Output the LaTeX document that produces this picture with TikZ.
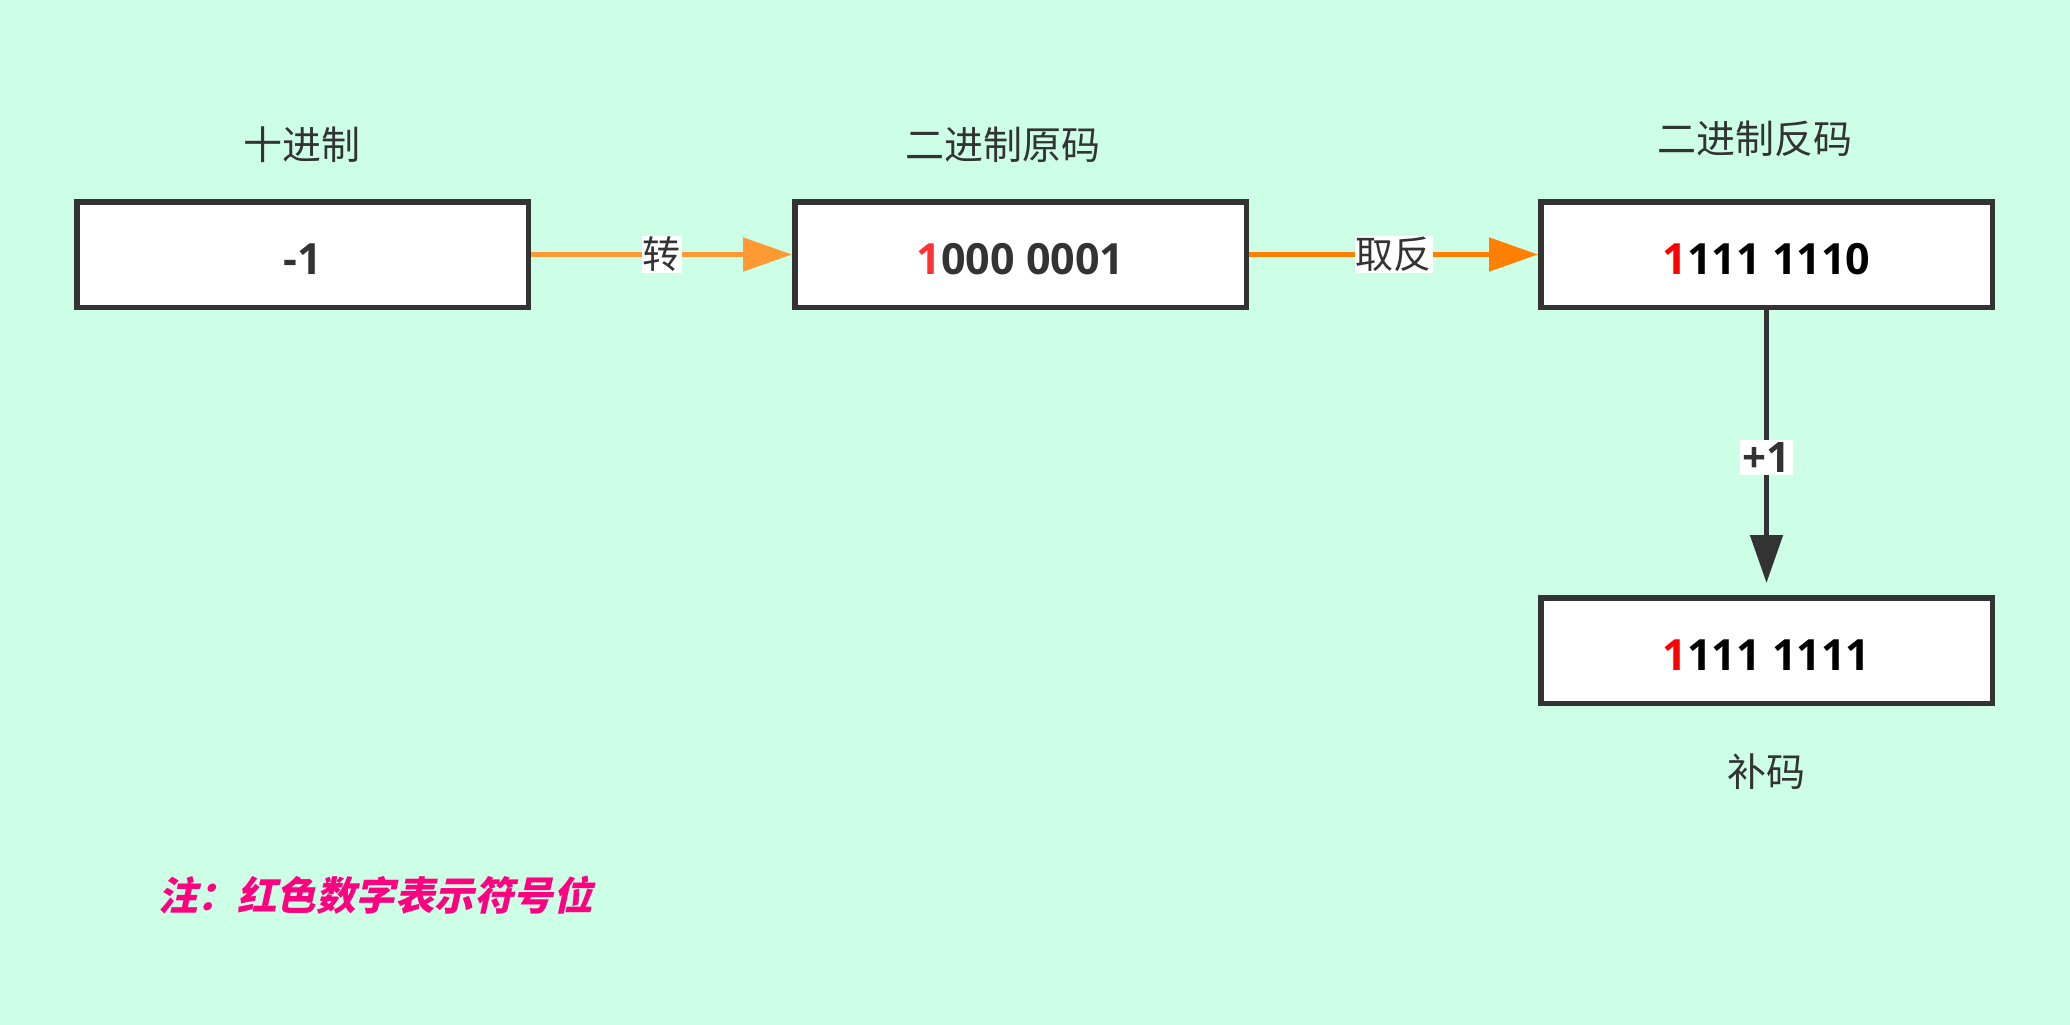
\documentclass[tikz,border=0pt]{standalone}
\usepackage{fontspec}
\usetikzlibrary{arrows.meta}
\newfontfamily\cjk{Noto Sans CJK SC}
\newfontfamily\notefont[FakeSlant=0.22]{Noto Sans CJK SC}
\newfontfamily\numfont{Open Sans}
\definecolor{bgc}{HTML}{CCFFE6}
\definecolor{boxc}{HTML}{333333}
\definecolor{txtc}{HTML}{333333}
\definecolor{orA}{HTML}{FF9933}
\definecolor{orB}{HTML}{FF8000}
\definecolor{redA}{HTML}{FF3333}
\definecolor{redB}{HTML}{FF0000}
\definecolor{notec}{HTML}{FF0080}
\tikzset{
  valbox/.style={draw=boxc, line width=5.5pt, fill=white, minimum width=451.5pt, minimum height=105.5pt, inner sep=0pt,
    text height=39pt, text depth=0pt,
    font=\numfont\bfseries\fontsize{43}{45}\selectfont},
  title/.style={text=txtc, inner sep=0pt, font=\cjk\fontsize{39}{42}\selectfont},
  edgelbl/.style={fill=white, inner sep=1pt, text=txtc, font=\cjk\fontsize{38}{40}\selectfont},
  numlbl/.style={fill=white, inner sep=3pt, text=txtc, font=\numfont\bfseries\fontsize{42}{44}\selectfont},
}
\begin{document}
\begin{tikzpicture}[x=1pt,y=-1pt]
\fill[bgc] (0,0) rectangle (2070,1025);
\useasboundingbox (0,0) rectangle (2070,1025);

\node[valbox, text=txtc] (dec) at (302.5,254.5) {-1};
\node[valbox, text=txtc] (orig) at (1020.5,254.5) {\textcolor{redA}{1}000 0001};
\node[valbox, text=black] (inv) at (1766.5,254.5) {\textcolor{redB}{1}111 1110};
\node[valbox, text=black] (comp) at (1766.5,650.5) {\textcolor{redB}{1}111 1111};

\node[title] (tdec) at (302,145) {十进制};
\node[title] (torig) at (1003,145) {二进制原码};
\node[title] (tinv) at (1755,139) {二进制反码};
\node[title] (tcomp) at (1766,772) {补码};

\draw[orA, line width=5pt, -{Triangle[length=49pt,width=33pt]}] (dec.east) -- node[edgelbl] {转} (orig.west);
\draw[orB, line width=5pt, -{Triangle[length=49pt,width=33pt]}] (orig.east) -- node[edgelbl] {取反} (inv.west);
\draw[boxc, line width=5pt, -{Triangle[length=48pt,width=32pt]}, shorten >=12pt] (inv.south) -- node[numlbl, yshift=-5pt] {+1} (comp.north);

\node[anchor=west, text=notec, inner sep=0pt, font=\notefont\bfseries\fontsize{39.5}{42}\selectfont] (note) at (158,895) {注：红色数字表示符号位};
\end{tikzpicture}
\end{document}
